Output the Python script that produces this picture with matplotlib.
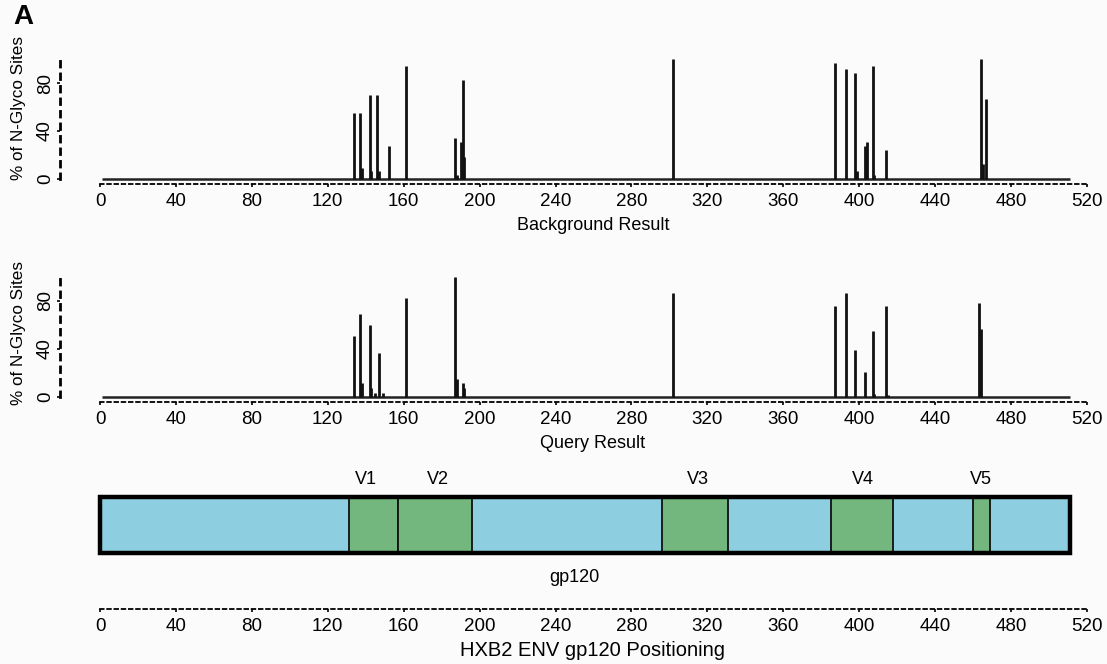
import matplotlib
matplotlib.use('Agg')
import matplotlib.pyplot as plt
from matplotlib.patches import Rectangle

plt.rcParams['font.family'] = ['Liberation Sans', 'DejaVu Sans']

# background (database) glycosylation frequencies by HXB2 position
bg_pos = [134, 137, 138, 142, 143, 146, 147, 152, 161, 187, 188, 190, 191, 192,
          302, 387, 393, 398, 399, 403, 404, 407, 408, 414, 464, 465, 467]
bg_pct = [55, 55, 9.5, 70, 6.7, 70, 6.7, 27.5, 94, 34, 3, 30.5, 82.5, 18.6,
          100, 97, 91.4, 88, 6.7, 27.5, 30.8, 94.5, 3.3, 24, 100, 12.5, 67]

# query glycosylation frequencies
q_pos = [134, 137, 138, 142, 143, 145, 147, 149, 161, 187, 188, 191, 192,
         302, 387, 393, 398, 403, 407, 408, 414, 415, 463, 464]
q_pct = [51, 69, 12, 60, 7.8, 3, 37, 3, 82.8, 100, 14.7, 12, 7.8,
         87, 76, 87, 39, 21, 55, 2.5, 76, 2, 78, 57]

# gp120 map
gp120_len = 511
v_names = ['V1', 'V2', 'V3', 'V4', 'V5']
v_start = [131, 157, 296, 385, 460]
v_end = [157, 196, 331, 418, 469]
v_label_x = [140, 178, 315, 402, 464]

x_ticks = list(range(0, 521, 40))
y_ticks = [0, 40, 80]

W, H = 1107, 664
BG = '#fbfbfb'
BLUE = '#8dcee0'
GREEN = '#74b77e'

fig = plt.figure(figsize=(W / 100, H / 100), dpi=100, facecolor=BG)

scale = 987 / 520          # pixels per residue
x0 = -(100 - 60) / scale   # axes start left of position 0


def add_axes_px(left, top, right, bottom):
    return fig.add_axes([left / W, 1 - bottom / H, (right - left) / W, (bottom - top) / H])


def style_xaxis(ax, spine_y):
    ax.spines['bottom'].set_position(('data', spine_y))
    ax.spines['bottom'].set_bounds(0, 520)
    ax.spines['bottom'].set_linestyle((0, (2, 2)))
    ax.spines['bottom'].set_linewidth(1.3)
    ax.set_xticks(x_ticks)
    ax.tick_params(axis='x', length=2.5, width=1.2, labelsize=13.5, pad=4)


def draw_panel(ax, pos, pct, label, ylab_y):
    ax.set_xlim(x0, 520)
    ax.set_ylim(-11 / 1.2, 129 / 1.2)
    ax.patch.set_alpha(0)
    ax.hlines(0, 1, gp120_len, color='#222222', lw=1.8)
    ax.vlines(pos, 0, pct, color='#111111', lw=2.0)

    for s in ['top', 'right']:
        ax.spines[s].set_visible(False)
    style_xaxis(ax, -5 / 1.2)

    ax.spines['left'].set_bounds(0, 100)
    ax.spines['left'].set_linestyle((0, (2, 2.5)))
    ax.spines['left'].set_linewidth(2)
    ax.set_yticks(y_ticks)
    ax.tick_params(axis='y', length=2.5, width=1.2, labelsize=13.5, pad=2,
                   labelrotation=90)
    for t in ax.get_yticklabels():
        t.set_va('center')

    ax.set_xlabel(label, fontsize=13, va='center')
    ax.xaxis.set_label_coords((593 - 60) / 1027, -0.25)
    ax.set_ylabel('% of N-Glyco Sites', fontsize=12.3, va='center')
    ax.yaxis.set_label_coords((18 - 60) / 1027, ylab_y)


ax1 = add_axes_px(60, 50, 1087, 190)
draw_panel(ax1, bg_pos, bg_pct, 'Background Result', (190 - 108) / 140)

ax2 = add_axes_px(60, 268, 1087, 408)
draw_panel(ax2, q_pos, q_pct, 'Query Result', (408 - 333) / 140)

# gene map of gp120 with variable loops
ax3 = add_axes_px(60, 465, 1087, 615)
ax3.set_xlim(x0, 520)
ax3.set_ylim((553 - 615) / 56, (553 - 465) / 56)
ax3.patch.set_alpha(0)
ax3.bar(0, 1, width=gp120_len, bottom=0, align='edge', color=BLUE, lw=0)
for name, s, e, lx in zip(v_names, v_start, v_end, v_label_x):
    ax3.bar(s, 1, width=e - s, bottom=0, align='edge', color=GREEN,
            edgecolor='#111111', lw=1.3)
    ax3.text(lx, (553 - 480) / 56, name, ha='center', va='center', fontsize=13)
ax3.add_patch(Rectangle((0, 0), gp120_len, 1, fill=False, edgecolor='black', lw=3.2, zorder=5))
ax3.text(250, (553 - 578) / 56, 'gp120', ha='center', va='center', fontsize=13)

for s in ['top', 'right', 'left']:
    ax3.spines[s].set_visible(False)
ax3.set_yticks([])
style_xaxis(ax3, (553 - 609) / 56)
ax3.set_xlabel('HXB2 ENV gp120 Positioning', fontsize=14.5, va='center')
ax3.xaxis.set_label_coords((592 - 60) / 1027, (615 - 650) / 150)

fig.text(23 / W, 1 - 17 / H, 'A', fontsize=20, fontweight='bold', ha='center', va='center')

fig.savefig('out.png', dpi=100, facecolor=BG)
